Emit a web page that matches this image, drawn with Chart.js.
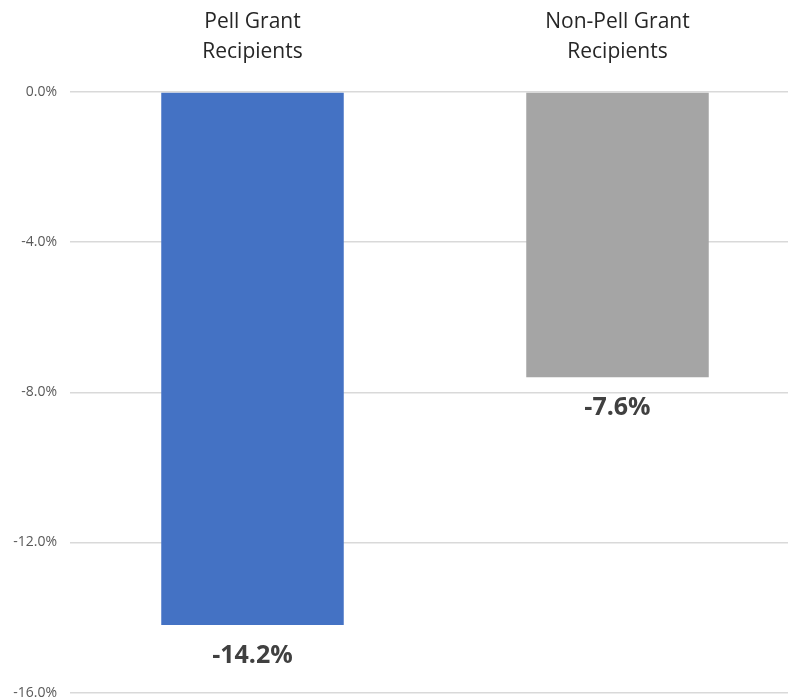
<!DOCTYPE html>
<html>
<head>
<meta charset="utf-8">
<script src="https://cdn.jsdelivr.net/npm/chart.js@4.4.1/dist/chart.umd.min.js"></script>
<style>
  html, body { margin: 0; padding: 0; background: #fff; overflow: hidden; }
  #wrap { width: 800px; height: 714px; position: relative; }
</style>
</head>
<body>
<div id="wrap"><canvas id="grafico"></canvas></div>
<script>
// Datos del grafico
const categorias = [['Pell Grant', 'Recipients'], ['Non-Pell Grant', 'Recipients']];
const valores = [-14.2, -7.6];
const coloresBarras = ['#4472C4', '#A5A5A5'];
const ticksY = [0, -4, -8, -12, -16];

// Etiquetas debajo de cada barra
const etiquetasPlugin = {
    id: 'etiquetas',
    afterDatasetsDraw(chart) {
        const ctx = chart.ctx;
        const meta = chart.getDatasetMeta(0);
        ctx.save();
        ctx.font = 'bold 25px "Open Sans", "Liberation Sans", sans-serif';
        ctx.fillStyle = '#404040';
        ctx.textAlign = 'center';
        ctx.textBaseline = 'middle';
        meta.data.forEach((bar, i) => {
            ctx.fillText(valores[i].toFixed(1) + '%', bar.x, bar.y + 31);
        });
        ctx.restore();
    }
};

new Chart(document.getElementById('grafico'), {
    type: 'bar',
    data: {
        labels: categorias,
        datasets: [{
            data: valores,
            backgroundColor: coloresBarras,
            borderWidth: 0,
            barPercentage: 0.5,
            categoryPercentage: 1.0
        }]
    },
    options: {
        responsive: true,
        maintainAspectRatio: false,
        animation: false,
        layout: { padding: { top: 0, bottom: 0, left: 0, right: 0 } },
        plugins: { legend: { display: false }, tooltip: { enabled: false } },
        scales: {
            x: {
                position: 'top',
                grid: { display: false },
                border: { display: false },
                ticks: {
                    color: '#262626',
                    font: { size: 21, family: '"Open Sans", "Liberation Sans", sans-serif', lineHeight: 1.42 },
                    padding: 17,
                    maxRotation: 0
                },
                afterFit(scale) { scale.height = 92; }
            },
            y: {
                min: -16,
                max: 0,
                afterBuildTicks(scale) { scale.ticks = ticksY.map(v => ({ value: v })); },
                grid: { color: '#D9D9D9', lineWidth: 1.5, drawTicks: false },
                border: { display: false },
                ticks: {
                    color: '#595959',
                    font: { size: 14, family: '"Open Sans", "Liberation Sans", sans-serif' },
                    padding: 13,
                    callback: v => v.toFixed(1) + '%'
                },
                afterFit(scale) { scale.width = 70; }
            }
        }
    },
    plugins: [etiquetasPlugin]
});
</script>
</body>
</html>
